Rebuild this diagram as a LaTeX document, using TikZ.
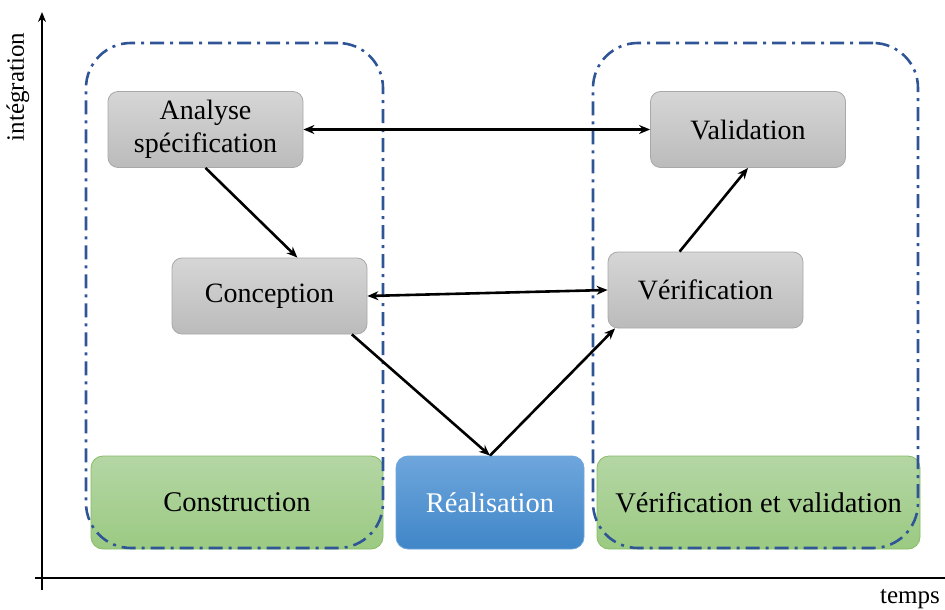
\documentclass[tikz,border=0pt]{standalone}
\usepackage{fontspec}
\setmainfont{Liberation Serif}
\usetikzlibrary{arrows.meta}
\definecolor{framecol}{HTML}{2F5597}
\definecolor{graytop}{HTML}{D6D6D6}
\definecolor{graybot}{HTML}{BBBBBB}
\definecolor{grayedge}{HTML}{A8A8A8}
\definecolor{greentop}{HTML}{B4D6A4}
\definecolor{greenbot}{HTML}{9BCA82}
\definecolor{greenedge}{HTML}{86BC66}
\definecolor{bluetop}{HTML}{6EA6DC}
\definecolor{bluebot}{HTML}{4086C8}
\tikzset{
  graybox/.style={draw=grayedge, line width=0.8pt, rounded corners=10pt, top color=graytop, bottom color=graybot,
    minimum width=195pt, minimum height=76pt, font=\fontsize{28}{33}\selectfont, align=center, inner sep=0pt},
  phasebox/.style={rounded corners=12pt, minimum height=93pt, font=\fontsize{28.5}{31}\selectfont, inner sep=0pt},
  greenbox/.style={phasebox, draw=greenedge, line width=0.8pt, top color=greentop, bottom color=greenbot},
  bluebox/.style={phasebox, draw=bluetop, line width=0.8pt, top color=bluetop, bottom color=bluebot, text=white},
  frame/.style={draw=framecol, line width=2.6pt, rounded corners=45pt,
    dash pattern=on 14pt off 6pt on 3pt off 6pt},
  conn/.style={line width=2.6pt, -{Stealth[length=11pt,width=9pt]}},
  dconn/.style={line width=2.6pt, {Stealth[length=11pt,width=9pt]}-{Stealth[length=11pt,width=9pt]}},
  axis/.style={line width=1.8pt},
  axislabel/.style={font=\fontsize{25}{27}\selectfont, inner sep=0pt}
}
\begin{document}
\begin{tikzpicture}[x=1pt,y=-1pt]
\useasboundingbox (0,0) rectangle (945,610);
% axes
\coordinate (yb) at (42,590);
\coordinate (yt) at (42,12);
\coordinate (xl) at (35,578);
\coordinate (xr) at (945,578);
\draw[axis, -{Stealth[length=10pt,width=8pt]}] (yb) -- (yt);
\draw[axis] (xl) -- (xr);
\node[axislabel, rotate=90] (ylab) at (18,87) {intégration};
\node[axislabel] (xlab) at (910,599) {temps};
% phase boxes
\node[greenbox, minimum width=292pt] (cons) at (237,502.5) {Construction};
\node[bluebox, minimum width=188pt] (real) at (490,502.5) {Réalisation};
\node[greenbox, minimum width=323pt] (vv) at (758.5,502.5) {Vérification et validation};
% frames
\node[frame, minimum width=297pt, minimum height=505pt, inner sep=0pt] (f1) at (234.5,295.5) {};
\node[frame, minimum width=325pt, minimum height=505pt, inner sep=0pt] (f2) at (755.5,295.5) {};
% step boxes
\node[graybox] (ana) at (205.5,129.5) {Analyse\\spécification};
\node[graybox] (val) at (748,129.5) {Validation};
\node[graybox] (conc) at (269.5,296) {Conception};
\node[graybox] (verif) at (705.5,290) {Vérification};
% connectors
\draw[dconn] (ana.east) -- (val.west);
\draw[dconn] (conc.east) -- (verif.west);
\draw[conn] (ana.south) -- (conc.54);
\draw[conn] (conc.-25) -- (real.north);
\draw[conn] (real.north) -- (verif.203);
\draw[conn] (verif.124) -- (val.south);
\end{tikzpicture}
\end{document}
